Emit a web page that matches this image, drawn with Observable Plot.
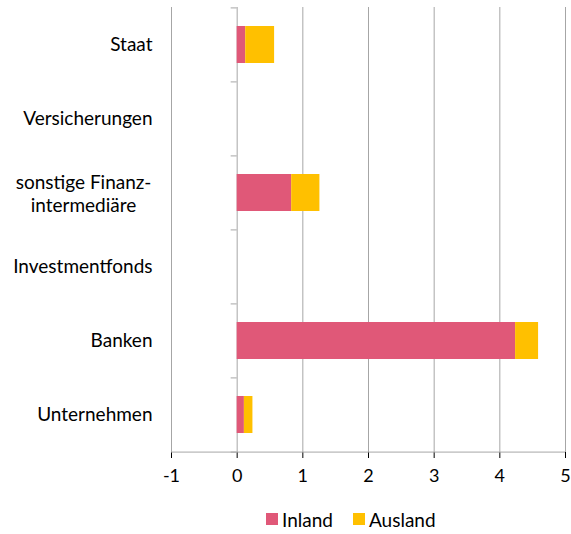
<!DOCTYPE html>
<html>
<head>
<meta charset="utf-8">
<script src="https://cdn.jsdelivr.net/npm/d3@7"></script>
<script src="https://cdn.jsdelivr.net/npm/@observablehq/plot@0.6"></script>
<style>
  body { margin: 0; background: #fff; font-family: Lato, "Open Sans", sans-serif; }
  #chart svg { display: block; }
  .legend { height: 38px; display: flex; align-items: center; padding-left: 266px; font-size: 19px; color: #000; }
  .legend .item { display: flex; align-items: center; margin-right: 20px; }
  .legend .sw { width: 12px; height: 12px; margin-right: 4px; }
</style>
</head>
<body>
<div id="chart"></div>
<div class="legend" id="legend"></div>
<script>
const categories = ["Staat", "Versicherungen", "sonstige Finanz-\nintermediäre", "Investmentfonds", "Banken", "Unternehmen"];
const inland = [0.13, 0, 0.83, 0, 4.24, 0.11];
const ausland = [0.44, 0, 0.43, 0, 0.35, 0.13];
const seriesNames = ["Inland", "Ausland"];
const seriesColors = ["#e05878", "#ffc000"];
const xTicks = [-1, 0, 1, 2, 3, 4, 5];

const data = [];
categories.forEach((c, i) => {
  data.push({cat: c, series: "Inland", value: inland[i]});
  data.push({cat: c, series: "Ausland", value: ausland[i]});
});

const W = 571, H = 500, mT = 7, mB = 48, mL = 171, mR = 6;
const step = (H - mT - mB) / categories.length;
const tickLen = 6 / ((W - mL - mR) / 6); // 6px in data units
const grid = "#a6a6a6";
const multi = categories.filter(c => c.includes("\n"));
const single = categories.filter(c => !c.includes("\n"));

const chart = Plot.plot({
  width: W, height: H,
  marginTop: mT, marginBottom: mB, marginLeft: mL, marginRight: mR,
  style: {fontFamily: "Lato, 'Open Sans', sans-serif", fontSize: "18px", color: "#000", background: "#fff", overflow: "visible"},
  x: {domain: [-1, 5], ticks: xTicks, tickFormat: d => String(d), tickSize: 6, tickPadding: 11, label: null},
  y: {domain: categories, axis: null, paddingInner: 0.5, paddingOuter: 0.25},
  color: {domain: seriesNames, range: seriesColors},
  marks: [
    Plot.ruleX(xTicks, {stroke: grid, strokeWidth: 1}),
    Plot.ruleY(categories, {y: d => d, x1: -tickLen, x2: 0, dy: -step / 2, stroke: grid}),
    Plot.ruleY(categories.slice(-1), {y: d => d, x1: -tickLen, x2: 0, dy: step / 2, stroke: grid}),
    Plot.ruleY(categories.slice(-1), {y: d => d, x1: -1, x2: 5, dy: step / 2, stroke: grid}),
    Plot.barX(data, {y: "cat", x: "value", fill: "series"}),
    Plot.text(single, {y: d => d, text: d => d, frameAnchor: "left", textAnchor: "end", dx: -19, fill: "#000", fontSize: 19}),
    Plot.text(multi, {y: d => d, text: d => d, frameAnchor: "left", textAnchor: "middle", dx: -88, lineHeight: 1.25, fill: "#000", fontSize: 19})
  ]
});
document.getElementById("chart").appendChild(chart);

const legend = document.getElementById("legend");
seriesNames.forEach((s, i) => {
  const item = document.createElement("div");
  item.className = "item";
  item.innerHTML = `<span class="sw" style="background:${seriesColors[i]}"></span><span>${s}</span>`;
  legend.appendChild(item);
});
</script>
</body>
</html>
